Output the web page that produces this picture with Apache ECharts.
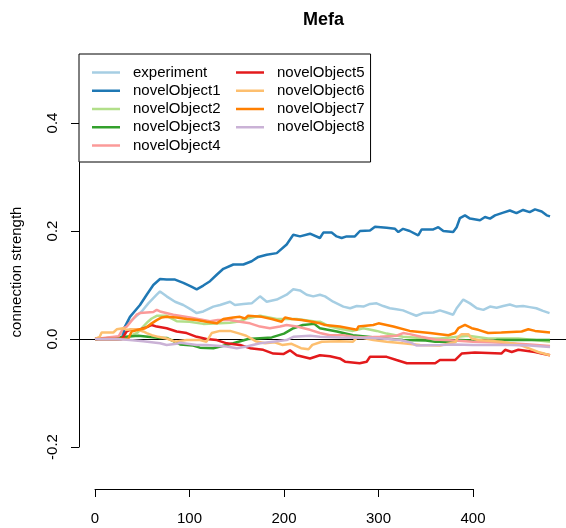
<!DOCTYPE html>
<html><head><meta charset="utf-8">
<script src="https://cdn.jsdelivr.net/npm/echarts@6/dist/echarts.min.js"></script>
<style>html,body{margin:0;padding:0;background:#fff}#c{width:566px;height:528px}</style>
</head><body><div id="c"></div>
<script>
const chartTitle = 'Mefa';
const yName = 'connection strength';
const seriesNames = ['experiment','novelObject1','novelObject2','novelObject3','novelObject4','novelObject5','novelObject6','novelObject7','novelObject8'];
const seriesColors = ['#A6CEE3','#1F78B4','#B2DF8A','#33A02C','#FB9A99','#E31A1C','#FDBF6F','#FF7F00','#CAB2D6'];
const xTicks = [0,100,200,300,400];
const yTicks = [-0.2,0.0,0.2,0.4];

const experiment = [[0,0],[28,0],[30,0.020],[38.8,0.035],[49.4,0.051],[56.4,0.066],[65.3,0.082],[68.8,0.088],[75.8,0.079],[84.7,0.069],[93.4,0.063],[102.3,0.054],[107.6,0.048],[114.6,0.051],[125.2,0.060],[132.3,0.063],[142.9,0.069],[148,0.063],[157,0.065],[165.8,0.066],[174.6,0.079],[181.7,0.069],[192.3,0.073],[202.8,0.082],[209.8,0.092],[216.9,0.090],[224,0.082],[231,0.079],[238,0.082],[243.4,0.079],[252,0.069],[262.8,0.060],[270,0.057],[277,0.061],[284,0.060],[291,0.065],[298,0.066],[305,0.061],[312,0.057],[319,0.055],[326,0.053],[333,0.048],[340,0.043],[347,0.048],[358,0.049],[365,0.053],[372,0.049],[379,0.045],[382.7,0.057],[389.7,0.073],[396.8,0.066],[404,0.057],[411,0.054],[418,0.060],[425,0.058],[432,0.061],[439,0.064],[446,0.060],[453,0.061],[460,0.059],[467,0.057],[474,0.052],[481,0.048]];
const novelObject1 = [[0,0],[29,0],[31.7,0.023],[37,0.041],[47.6,0.063],[54.7,0.082],[61.7,0.100],[68.8,0.111],[75.8,0.110],[84.7,0.110],[93.5,0.104],[102,0.097],[107.6,0.092],[114.6,0.099],[121.7,0.107],[128.8,0.119],[135.8,0.130],[146.4,0.138],[157,0.138],[165.8,0.144],[172.8,0.152],[181.7,0.156],[192.3,0.159],[202.8,0.175],[209.8,0.193],[216.9,0.190],[227.5,0.195],[238,0.187],[241.6,0.197],[250.4,0.197],[255.7,0.190],[261,0.187],[266.3,0.190],[275,0.190],[280.4,0.200],[291,0.201],[296.3,0.208],[308.6,0.206],[317.5,0.204],[321,0.198],[326,0.204],[333,0.200],[342,0.192],[345.7,0.203],[358,0.203],[363.3,0.207],[368.6,0.200],[379,0.198],[382.7,0.207],[386.2,0.224],[391.5,0.229],[396.8,0.223],[407.4,0.220],[412.7,0.226],[418,0.223],[423.3,0.229],[432,0.234],[439,0.238],[446,0.233],[453,0.239],[460,0.235],[465.6,0.240],[472.7,0.236],[478,0.229],[481.5,0.227]];
const novelObject2 = [[0,0],[35,0.004],[45,0.012],[51,0.023],[56,0.032],[60,0.038],[65.3,0.043],[75.8,0.043],[86.4,0.033],[100,0.032],[114.6,0.028],[132.3,0.029],[142.9,0.030],[153.4,0.033],[160.5,0.038],[174.6,0.043],[192.3,0.037],[213.4,0.037],[234.6,0.032],[238,0.032],[248.7,0.023],[259,0.019],[273,0.015],[284,0.020],[298,0.015],[308.6,0.010],[326,0.004],[351,0.001],[365,0.001],[395,0.006],[416,0.001],[448,0.001],[465,-0.002],[481.5,-0.005]];
const novelObject3 = [[0,0],[33,0.004],[45.8,0.006],[68.8,0.002],[75.8,0.002],[82.9,-0.004],[90,-0.010],[97,-0.011],[104,-0.012],[111,-0.016],[125.2,-0.017],[135,-0.013],[146.4,-0.008],[162,0.000],[187,0.003],[200,0.010],[210,0.020],[220,0.026],[232,0.028],[238,0.020],[256,0.014],[273,0.007],[301.6,0.002],[326,-0.002],[350,-0.003],[360,-0.005],[380,-0.005],[385,-0.002],[400,-0.003],[420,-0.005],[425,-0.002],[450,-0.002],[481.5,-0.002]];
const novelObject4 = [[0,0],[25,0.005],[30,0.020],[33.5,0.023],[44,0.045],[47.6,0.048],[61.7,0.050],[65.3,0.054],[68.8,0.051],[82.9,0.045],[100.5,0.040],[121.7,0.033],[130,0.035],[142.9,0.035],[153.4,0.032],[164,0.029],[174.6,0.023],[185,0.020],[195.8,0.023],[202.8,0.026],[213.4,0.023],[227.5,0.017],[238,0.011],[248.7,0.007],[262.8,0.007],[273,0.004],[284,0.003],[301.6,0.004],[319,0.006],[326,0.011],[333,0.009],[345,0.004],[360,-0.001],[380,-0.003],[400,-0.005],[420,-0.006],[440,-0.008],[460,-0.010],[481.5,-0.013]];
const novelObject5 = [[0,0],[28,0],[30,0.004],[33.5,0.014],[37,0.017],[45.8,0.017],[55,0.022],[60,0.026],[65.3,0.023],[75.8,0.020],[86.4,0.014],[97,0.011],[107.6,0.004],[118,0.000],[128.8,-0.002],[139.4,-0.008],[153.4,-0.011],[164,-0.017],[178,-0.020],[188.7,-0.027],[199.3,-0.028],[206.3,-0.021],[213.4,-0.030],[227.5,-0.036],[238,-0.030],[248.7,-0.032],[259,-0.036],[264.6,-0.042],[280,-0.045],[287.5,-0.042],[291,-0.033],[308.6,-0.033],[319,-0.039],[330,-0.045],[351,-0.045],[360,-0.045],[365,-0.039],[381,-0.039],[384.5,-0.033],[388,-0.027],[402,-0.025],[430,-0.027],[434,-0.020],[441,-0.024],[448,-0.020],[465.6,-0.024],[472.7,-0.027],[481.5,-0.030]];
const novelObject6 = [[0,0],[5,0.004],[7,0.012],[19.4,0.012],[23,0.018],[30,0.020],[33.5,0.017],[40.6,0.018],[45.8,0.017],[51,0.014],[54.7,0.011],[60,0.007],[67,0.004],[75.8,0.001],[84.7,-0.005],[97,-0.002],[111,-0.002],[118,-0.005],[123.5,0.011],[132.3,0.015],[142.9,0.015],[153,0.010],[160,0.006],[170,-0.004],[180,-0.008],[190,-0.006],[198,-0.011],[208,-0.009],[218,-0.017],[226,-0.019],[230,-0.011],[240,-0.005],[259,-0.004],[273,-0.005],[277,0.002],[284,0.002],[294.5,-0.002],[308.6,-0.005],[326,-0.008],[344,-0.011],[365,-0.012],[381,-0.006],[384.5,0.004],[388,0.009],[395,0.009],[398.6,0.001],[405.6,-0.002],[430,-0.005],[448,-0.010],[458.5,-0.017],[469,-0.024],[481.5,-0.030]];
const novelObject7 = [[0,0],[35,0],[38.8,0.014],[45.8,0.017],[53,0.020],[60,0.029],[65.3,0.035],[70.6,0.040],[75.8,0.041],[86.4,0.040],[97,0.037],[107.6,0.035],[118,0.032],[128.8,0.029],[135.8,0.037],[146.4,0.040],[153.4,0.041],[158.7,0.038],[162,0.043],[176.4,0.041],[187,0.037],[197.5,0.032],[201,0.040],[208,0.037],[218.7,0.035],[229.3,0.032],[238,0.029],[243.4,0.026],[259,0.023],[277,0.017],[278.7,0.023],[294.5,0.026],[300,0.029],[315.7,0.023],[333,0.015],[354.5,0.011],[365,0.009],[374,0.007],[381,0.011],[384.5,0.020],[391.5,0.026],[398.6,0.020],[405.6,0.017],[416,0.011],[430,0.012],[451.5,0.014],[458.5,0.018],[465.6,0.015],[481.5,0.012]];
const novelObject8 = [[0,0],[23,0],[37,-0.002],[51,-0.004],[68.8,-0.008],[75.8,-0.011],[86.4,-0.009],[90,-0.007],[107.6,-0.011],[118,-0.011],[139.4,-0.014],[150,-0.017],[160.5,-0.014],[174.6,-0.008],[188.7,-0.005],[202.8,-0.002],[209.8,0.004],[227.5,0.006],[238,0.004],[260,0.003],[294.5,0.002],[310,0.000],[323,-0.002],[333,-0.006],[340,-0.012],[365,-0.011],[380,-0.010],[400,-0.011],[420,-0.011],[440,-0.011],[460,-0.012],[481.5,-0.015]];

const seriesData = [experiment,novelObject1,novelObject2,novelObject3,novelObject4,novelObject5,novelObject6,novelObject7,novelObject8];
const FONT = "'Liberation Sans', Arial, sans-serif";

const chart = echarts.init(document.getElementById('c'), null, {renderer:'canvas'});
const series = [{
  type:'line', xAxisIndex:0, yAxisIndex:0, data:[], z:1, silent:true,
  markLine:{silent:true, z:1, symbol:['none','none'], label:{show:false}, animation:false,
    lineStyle:{color:'#000', width:1, type:'solid'}, data:[{yAxis:0}]}
}];
seriesNames.forEach((n,i)=>{
  series.push({name:n, type:'line', xAxisIndex:0, yAxisIndex:0, data:seriesData[i], symbol:'none', showSymbol:false,
    z:3, silent:true, lineStyle:{width:2.5, color:seriesColors[i]}, itemStyle:{color:seriesColors[i]}});
});

const legendCommon = {orient:'vertical', itemGap:3.25, icon:'rect', itemWidth:28, itemHeight:2.5,
  selectedMode:false, formatter:n=>'{s|}' + n,
  textStyle:{fontFamily:FONT, fontSize:15, color:'#000', rich:{s:{width:8}}}};

chart.setOption({
  animation:false,
  backgroundColor:'#fff',
  title:{text:chartTitle, left:298, top:6, textStyle:{fontFamily:FONT, fontSize:18, fontWeight:'bold', color:'#000'}},
  legend:[
    Object.assign({}, legendCommon, {data:seriesNames.slice(0,5), left:79, top:54, padding:[11,150,9,13],
      borderColor:'#000', borderWidth:1, borderRadius:0, backgroundColor:'#fff', z:4}),
    Object.assign({}, legendCommon, {data:seriesNames.slice(5), left:236, top:65, padding:0, z:6})
  ],
  grid:[
    {left:70, right:0, top:54, bottom:38, outerBoundsMode:'none'},
    {left:95, width:378, top:123, bottom:81, outerBoundsMode:'none'}
  ],
  xAxis:[
    {type:'value', gridIndex:0, min:-26.46, max:498.41, show:false, splitLine:{show:false}},
    {type:'value', gridIndex:1, min:xTicks[0], max:xTicks[xTicks.length-1], interval:xTicks[1]-xTicks[0], offset:42,
      axisLine:{show:true, onZero:false, lineStyle:{color:'#000', width:1}},
      axisTick:{show:true, length:8, lineStyle:{color:'#000'}},
      axisLabel:{margin:22, fontFamily:FONT, fontSize:15, color:'#000'},
      splitLine:{show:false}}
  ],
  yAxis:[
    {type:'value', gridIndex:0, min:-0.27963, max:0.52778, name:yName, nameLocation:'middle', nameGap:46,
      nameTextStyle:{fontFamily:FONT, fontSize:15, color:'#000'},
      axisLine:{show:false}, axisTick:{show:false}, axisLabel:{show:false}, splitLine:{show:false}},
    {type:'value', gridIndex:1, min:yTicks[0], max:yTicks[yTicks.length-1], interval:0.2, offset:16,
      axisLine:{show:true, onZero:false, lineStyle:{color:'#000', width:1}},
      axisTick:{show:true, length:8, lineStyle:{color:'#000'}},
      axisLabel:{rotate:90, margin:19, fontFamily:FONT, fontSize:15, color:'#000', formatter:v=>v.toFixed(1)},
      splitLine:{show:false}}
  ],
  series:series
});
</script></body></html>
